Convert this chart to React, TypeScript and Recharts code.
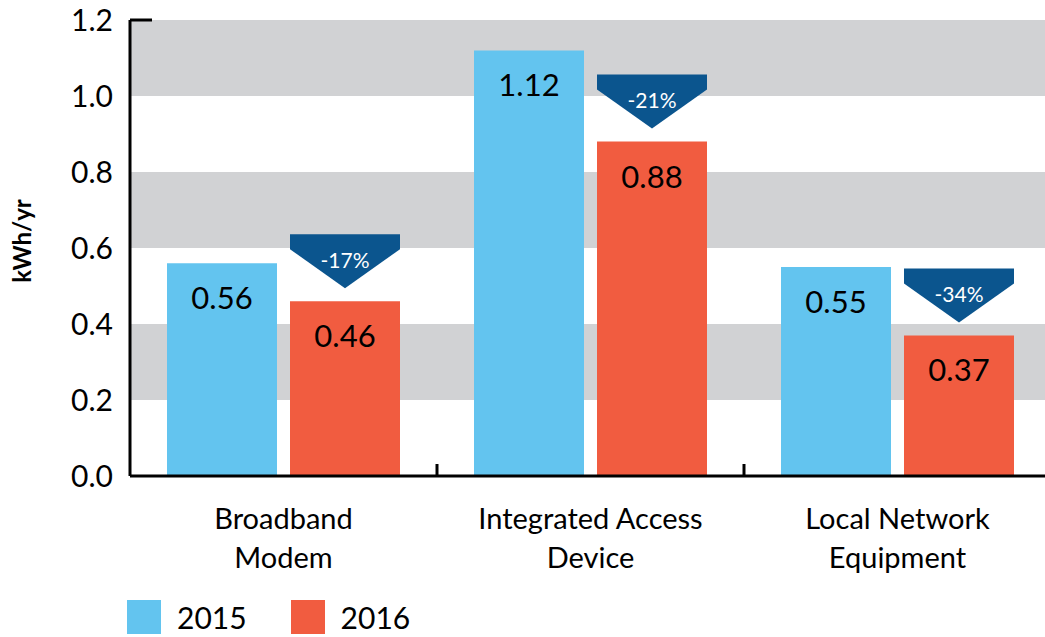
import React from "react";
import {
  BarChart,
  Bar,
  XAxis,
  YAxis,
  ReferenceArea,
  ReferenceLine,
  LabelList,
  Legend,
} from "recharts";

// categories, each split in two lines like the original labels
const categoryLines = [
  ["Broadband", "Modem"],
  ["Integrated Access", "Device"],
  ["Local Network", "Equipment"],
];
const values2015 = [0.56, 1.12, 0.55];
const values2016 = [0.46, 0.88, 0.37];
const changes = ["-17%", "-21%", "-34%"];
const yTicks = [0, 0.2, 0.4, 0.6, 0.8, 1.0, 1.2];
// grey stripes behind the bars
const bands = [
  [0.2, 0.4],
  [0.6, 0.8],
  [1.0, 1.2],
];

const BLUE = "#63C4EF";
const RED = "#F15C40";
const NAVY = "#0B558E";
const GREY = "#D1D2D4";
const FONT = "Lato, 'Open Sans', sans-serif";

const data = categoryLines.map((lines, i) => ({
  name: lines.join(" "),
  y2015: values2015[i],
  y2016: values2016[i],
  change: changes[i],
}));

const CategoryTick = (props: any) => {
  const { x, y, payload, index } = props;
  const lines = categoryLines[index] || [payload.value];
  const off = payload.offset || 0;
  return (
    <g>
      {index > 0 && (
        <line x1={x - off} x2={x - off} y1={y} y2={y - 12} stroke="#000" strokeWidth={3} />
      )}
      {lines.map((l: string, k: number) => (
        <text
          key={k}
          x={x}
          y={y + 53 + k * 39}
          textAnchor="middle"
          fontSize={29}
          fontFamily={FONT}
          fill="#000"
        >
          {l}
        </text>
      ))}
    </g>
  );
};

const ValueLabel = (props: any) => {
  const { x, y, width, value } = props;
  return (
    <text
      x={x + width / 2}
      y={y + 34}
      textAnchor="middle"
      dominantBaseline="central"
      fontSize={31}
      fontFamily={FONT}
      fill="#000"
    >
      {Number(value).toFixed(2)}
    </text>
  );
};

const ChangeArrow = (props: any) => {
  const { x, y, width, value } = props;
  const top = y - 67;
  const pts = [
    [x, top],
    [x + width, top],
    [x + width, top + 15],
    [x + width / 2, top + 54],
    [x, top + 15],
  ]
    .map((p) => p.join(","))
    .join(" ");
  return (
    <g>
      <polygon points={pts} fill={NAVY} />
      <text
        x={x + width / 2}
        y={top + 25}
        textAnchor="middle"
        dominantBaseline="central"
        fontSize={21}
        fontFamily={FONT}
        fill="#fff"
      >
        {value}
      </text>
    </g>
  );
};

const LegendBox = () => (
  <div
    style={{
      display: "flex",
      alignItems: "center",
      fontFamily: FONT,
      fontSize: 30,
      lineHeight: "34px",
      color: "#000",
    }}
  >
    {[
      ["2015", BLUE],
      ["2016", RED],
    ].map(([label, color]) => (
      <div key={label} style={{ display: "flex", alignItems: "center", marginRight: 44 }}>
        <span style={{ width: 34, height: 34, background: color, display: "inline-block", marginRight: 16 }} />
        <span>{label}</span>
      </div>
    ))}
  </div>
);

const YLabel = (props: any) => {
  const vb = props.viewBox || { y: 20, height: 456 };
  const cx = 21;
  const cy = vb.y + vb.height / 2 - 7;
  return (
    <text
      x={cx}
      y={cy}
      transform={`rotate(-90 ${cx} ${cy})`}
      textAnchor="middle"
      dominantBaseline="central"
      fontSize={24}
      fontWeight="bold"
      fontFamily={FONT}
      fill="#000"
    >
      kWh/yr
    </text>
  );
};

export default function App() {
  return (
    <div
      style={{
        position: "absolute",
        left: 0,
        top: 0,
        width: 1045,
        height: 637,
        overflow: "hidden",
        background: "#fff",
      }}
    >
      <BarChart
        width={1051}
        height={637}
        data={data}
        margin={{ top: 20, right: 0, bottom: 0, left: 0 }}
        barSize={110}
        barGap={13}
      >
        {bands.map(([a, b]) => (
          <ReferenceArea key={a} y1={a} y2={b} fill={GREY} fillOpacity={1} stroke="none" />
        ))}
        <XAxis
          dataKey="name"
          height={161}
          interval={0}
          axisLine={{ stroke: "#000", strokeWidth: 3 }}
          tickLine={false}
          tickSize={0}
          tickMargin={0}
          tick={<CategoryTick />}
        />
        <YAxis
          width={130}
          domain={[0, 1.2]}
          ticks={yTicks}
          interval={0}
          tickFormatter={(v: number) => v.toFixed(1)}
          axisLine={{ stroke: "#000", strokeWidth: 3 }}
          tickLine={false}
          tickSize={0}
          tickMargin={17}
          tick={{ fontSize: 30, fill: "#000", fontFamily: FONT }}
          label={<YLabel />}
        />
        <ReferenceLine
          y={1.2}
          stroke="#000"
          shape={(p: any) => (
            <line x1={p.x1} y1={p.y1} x2={p.x1 + 22} y2={p.y1} stroke="#000" strokeWidth={3} />
          )}
        />
        <Bar dataKey="y2015" fill={BLUE} isAnimationActive={false}>
          <LabelList dataKey="y2015" content={<ValueLabel />} />
        </Bar>
        <Bar dataKey="y2016" fill={RED} isAnimationActive={false}>
          <LabelList dataKey="y2016" content={<ValueLabel />} />
          <LabelList dataKey="change" content={<ChangeArrow />} />
        </Bar>
        <Legend
          layout="horizontal"
          verticalAlign="middle"
          align="center"
          content={<LegendBox />}
          wrapperStyle={{ position: "absolute", left: 127, top: 600, width: "auto", height: "auto" }}
        />
      </BarChart>
    </div>
  );
}
